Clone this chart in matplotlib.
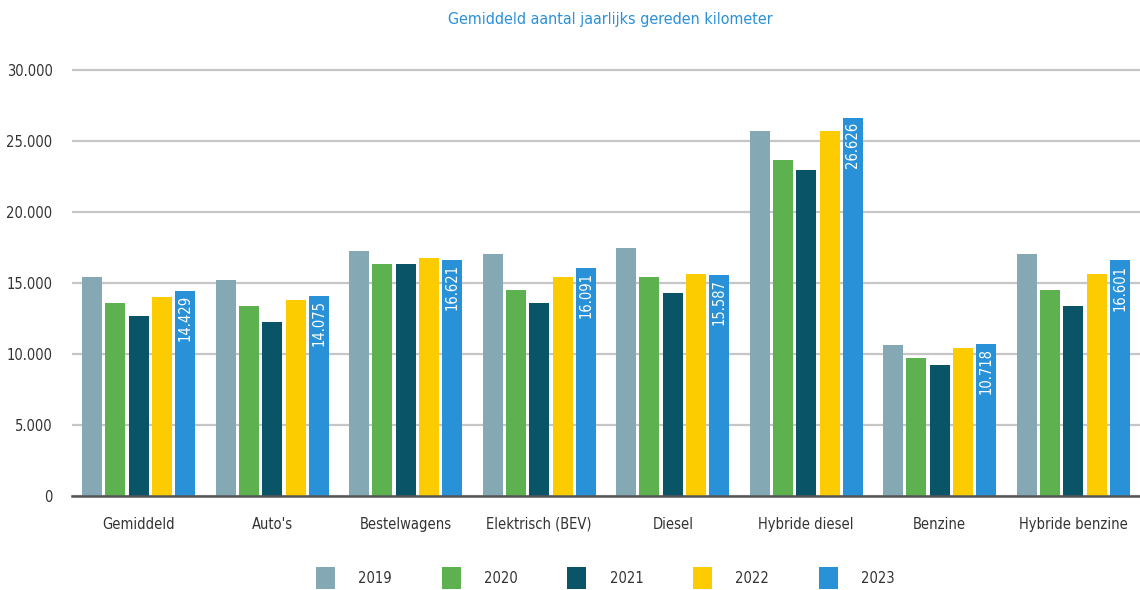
import matplotlib.pyplot as plt
import numpy as np

categories = ["Gemiddeld", "Auto's", "Bestelwagens", "Elektrisch (BEV)", "Diesel",
              "Hybride diesel", "Benzine", "Hybride benzine"]
years = ["2019", "2020", "2021", "2022", "2023"]
km_2019 = [15400, 15200, 17250, 17050, 17450, 25700, 10630, 17050]
km_2020 = [13600, 13400, 16350, 14500, 15420, 23650, 9720, 14500]
km_2021 = [12680, 12250, 16350, 13600, 14300, 22960, 9220, 13380]
km_2022 = [14000, 13800, 16760, 15420, 15620, 25700, 10420, 15620]
km_2023 = [14429, 14075, 16621, 16091, 15587, 26626, 10718, 16601]
series = [km_2019, km_2020, km_2021, km_2022, km_2023]
colors = ["#84a9b4", "#5db14e", "#0a5468", "#fdcc00", "#2891d8"]

plt.rcParams['font.family'] = ['DejaVu Sans']
plt.rcParams['font.stretch'] = 'condensed'

fig = plt.figure(figsize=(11.4, 5.9), dpi=100)
ymax = 30150
ax = fig.add_axes([72 / 1140, (590 - 496) / 590, (1140 - 72) / 1140, 426 * ymax / 30000 / 590])

x = np.arange(len(categories))
width = 0.15
pitch = 0.175
for i, (vals, col, yr) in enumerate(zip(series, colors, years)):
    pos = x + (i - 2) * pitch
    bars = ax.bar(pos, vals, width=width, color=col, label=yr, zorder=3)
    if yr == "2023":
        # waarde in de balk van 2023
        for b, v in zip(bars, vals):
            lbl = f"{v:,}".replace(",", ".")
            ax.text(b.get_x() + b.get_width() / 2, v - 300, lbl, rotation=90,
                    ha='center', va='top', color='white', fontsize=10.5, zorder=4)

ax.set_xlim(-0.5, len(categories) - 0.5)
ax.set_ylim(0, ymax)
ax.set_yticks(range(0, 30001, 5000))
ax.set_yticklabels([f"{t:,}".replace(",", ".") for t in range(0, 30001, 5000)])
ax.set_xticks(x)
ax.set_xticklabels(categories)
ax.tick_params(axis='both', length=0, labelsize=10.5, colors='#333333')
ax.tick_params(axis='y', pad=14)
ax.tick_params(axis='x', pad=15)
ax.grid(axis='y', color='#c6c6c6', linewidth=1.6, zorder=0)
for s in ['top', 'right', 'left']:
    ax.spines[s].set_visible(False)
ax.spines['bottom'].set_color('#555555')
ax.spines['bottom'].set_linewidth(1.8)
ax.spines['bottom'].set_zorder(5)

fig.text(0.535, 0.967, "Gemiddeld aantal jaarlijks gereden kilometer", ha='center',
         va='center', color='#2a90d8', fontsize=11.5)

fig.legend(loc='center', bbox_to_anchor=(0.531, 0.02), ncol=5, frameon=False,
           handlelength=1.3, handleheight=2.0, handletextpad=1.6, columnspacing=3.4,
           fontsize=10.5, labelcolor='#333333')

plt.savefig("out.png", dpi=100)
